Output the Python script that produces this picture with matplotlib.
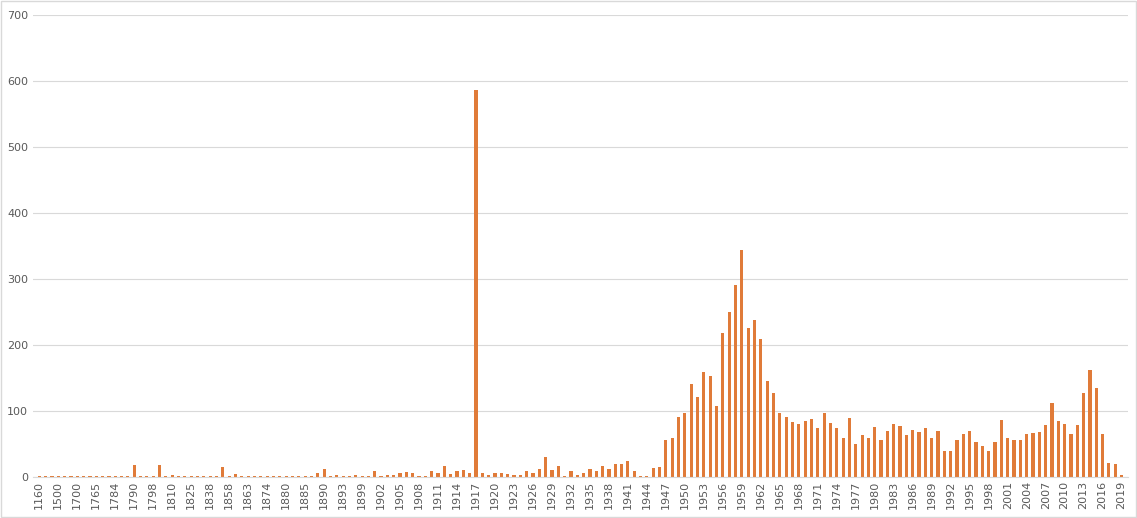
import matplotlib.pyplot as plt
import numpy as np

anos_iniciais = ["1160", "1300", "1450", "1500", "1600", "1650", "1700", "1720", "1750",
                 "1765", "1770", "1780", "1784", "1786", "1788", "1790", "1792", "1795",
                 "1798", "1800", "1805", "1810", "1815", "1820", "1825", "1830", "1835",
                 "1838", "1845", "1850", "1858", "1860", "1862", "1863", "1866", "1870",
                 "1874", "1876", "1878", "1880", "1882", "1884", "1885", "1887", "1889",
                 "1890", "1891", "1892", "1893", "1895", "1897"]
valores_iniciais = [1, 1, 1, 1, 1, 1, 1, 1, 1,
                    1, 1, 1, 1, 1, 1, 18, 1, 1,
                    1, 17, 1, 3, 1, 1, 1, 1, 1,
                    1, 1, 15, 1, 4, 1, 1, 1, 1,
                    1, 1, 1, 1, 1, 1, 1, 1, 5,
                    12, 1, 2, 1, 1, 2]

anos_recentes = [str(a) for a in range(1899, 2020)]
valores_recentes = [
    1, 1,                                        # 1899-1900
    9, 1, 2, 3, 6, 7, 6, 1, 1, 9,                # 1901-1910
    5, 16, 4, 9, 10, 6, 587, 6, 2, 6,            # 1911-1920
    5, 4, 3, 3, 8, 6, 12, 29, 10, 16,            # 1921-1930
    1, 9, 3, 6, 12, 9, 16, 12, 19, 19,           # 1931-1940
    23, 9, 1, 1, 13, 15, 55, 58, 91, 96,         # 1941-1950
    140, 120, 158, 152, 107, 218, 250, 290, 343, 226,  # 1951-1960
    237, 208, 145, 126, 96, 90, 83, 79, 84, 87,  # 1961-1970
    73, 96, 81, 73, 59, 89, 50, 63, 59, 75,      # 1971-1980
    56, 69, 79, 76, 63, 70, 67, 73, 58, 69,      # 1981-1990
    39, 39, 56, 64, 69, 53, 46, 39, 52, 86,      # 1991-2000
    59, 56, 56, 64, 66, 67, 78, 112, 84, 79,     # 2001-2010
    64, 78, 126, 161, 135, 64, 21, 19, 2,        # 2011-2019
]

anos = anos_iniciais + anos_recentes
valores = valores_iniciais + valores_recentes
x = np.arange(len(anos))

fig = plt.figure(figsize=(11.37, 5.18), dpi=100)
ax = fig.add_axes([0.029, 0.08, 0.963, 0.891])
ax.bar(x, valores, width=0.5, color="#E07B39", zorder=2)

ax.set_ylim(0, 700)
ax.set_yticks(range(0, 701, 100))
ax.set_xlim(-1, len(anos))
ax.set_xticks(x[::3], anos[::3], rotation=90, fontsize=8, color="#595959")
ax.tick_params(axis="y", labelsize=8, labelcolor="#595959", length=0)
ax.tick_params(axis="x", length=0, pad=3)
ax.grid(axis="y", color="#D9D9D9", linewidth=0.8, zorder=0)
for lado in ["top", "right", "left"]:
    ax.spines[lado].set_visible(False)
ax.spines["bottom"].set_color("#D9D9D9")

fig.patches.append(plt.Rectangle((0.001, 0.001), 0.998, 0.997, transform=fig.transFigure,
                                 fill=False, edgecolor="#D9D9D9", linewidth=1))

fig.savefig("out.png", dpi=100)
